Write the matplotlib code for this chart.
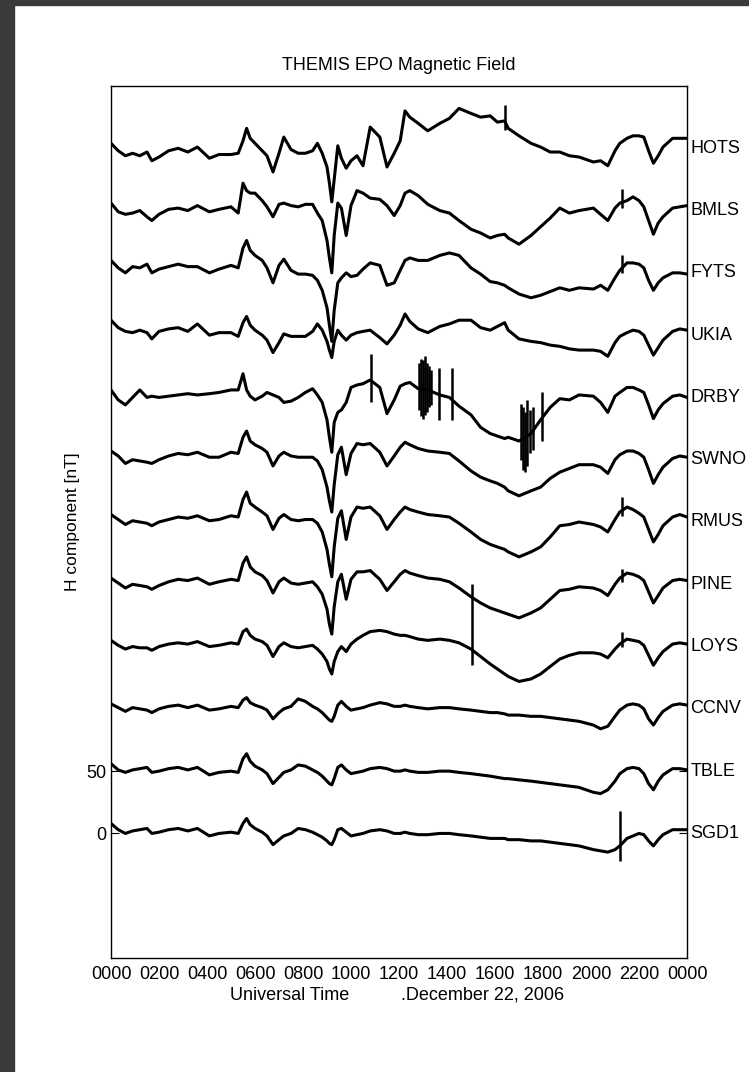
import numpy as np
import matplotlib
matplotlib.use("Agg")
import matplotlib.pyplot as plt
from matplotlib.patches import Rectangle
import matplotlib.transforms as mtransforms

plt.rcParams['font.family'] = ['Liberation Sans', 'DejaVu Sans']

# ---------------- data ----------------
hours = [0, 0.3, 0.6, 0.9, 1.2, 1.5, 1.7, 2.0, 2.4, 2.8,
         3.2, 3.6, 4.1, 4.5, 5.0, 5.3, 5.5, 5.65, 5.8, 6.0,
         6.3, 6.5, 6.75, 7.0, 7.2, 7.5, 7.8, 8.1, 8.4, 8.6,
         8.8, 9.0, 9.1, 9.2, 9.3, 9.45, 9.6, 9.8, 10.0, 10.25,
         10.5, 10.8, 11.2, 11.5, 11.8, 12.05, 12.25, 12.45, 12.8, 13.2,
         13.7, 14.1, 14.5, 15.0, 15.4, 15.8, 16.1, 16.4, 16.55, 17.0,
         17.5, 17.9, 18.3, 18.7, 19.1, 19.5, 20.1, 20.4, 20.7, 21.0,
         21.2, 21.5, 21.75, 22.0, 22.2, 22.4, 22.6, 22.8, 23.0, 23.4,
         23.7, 24.0]

stations = ["SGD1", "TBLE", "CCNV", "LOYS", "PINE", "RMUS",
            "SWNO", "DRBY", "UKIA", "FYTS", "BMLS", "HOTS"]
offsets = [0, 50, 100, 150, 200, 250, 300, 350, 400, 450, 500, 550]

hots = [4, -2, -6, -4, -6, -3, -10, -7, -2, 0,
        -3, 1, -8, -5, -5, -4, 6, 16, 8, 4,
        -2, -6, -19, -4, 9, -1, -4, -4, -2, 4,
        -4, -15, -28, -43, -25, 2, -8, -16, -10, -6,
        -14, 17, 9, -15, -4, 6, 30, 25, 20, 14,
        20, 24, 32, 28, 25, 26, 21, 22, 16, 10,
        4, 1, -3, -3, -6, -7, -11, -10, -14, -2,
        4, 8, 10, 10, 9, -2, -12, -6, 1, 8,
        8, 8]
bmls = [6, -1, -3, -2, 0, -5, -8, -3, 1, 2,
        0, 4, -1, 1, 3, -2, 22, 16, 14, 14,
        8, 3, -5, 5, 6, 4, 3, 5, 5, -2,
        -8, -24, -38, -50, -20, 6, 2, -20, 4, 16,
        14, 10, 9, 4, -4, 4, 14, 16, 12, 5,
        0, -2, -8, -15, -18, -22, -20, -19, -22, -27,
        -20, -13, -6, 2, -2, 0, 2, -3, -8, 2,
        6, 8, 11, 8, 3, -8, -19, -10, -5, 2,
        3, 4]
fyts = [10, 4, 0, 5, 4, 7, 0, 3, 5, 7,
        5, 5, 0, 3, 6, 4, 20, 26, 18, 14,
        10, 4, -8, 6, 11, 2, -1, -1, -2, -6,
        -14, -28, -42, -55, -30, -8, -4, 0, -3, -2,
        3, 8, 6, -10, -8, 2, 10, 12, 10, 10,
        14, 16, 14, 4, -1, -7, -8, -10, -12, -17,
        -20, -18, -15, -12, -14, -12, -13, -10, -14, -4,
        2, 8, 8, 7, 4, -6, -14, -8, -4, 0,
        0, -1]
ukia = [12, 6, 3, 2, 4, 2, -3, 3, 5, 6,
        3, 9, 0, 2, 2, -1, 10, 15, 8, 4,
        0, -4, -14, -6, 1, -1, -1, -1, 3, 9,
        4, -5, -12, -18, -5, 4, 0, -4, 0, 2,
        3, 4, -2, -7, 0, 8, 17, 11, 5, 2,
        7, 9, 12, 12, 6, 4, 7, 10, 4, -3,
        -5, -6, -8, -9, -11, -12, -12, -13, -17, -6,
        -1, 2, 4, 3, 0, -8, -16, -10, -4, 3,
        5, 4]
drby = [6, -2, -6, 0, 6, 0, 1, 0, 1, 2,
        3, 2, 3, 4, 6, 6, 19, 6, 1, -2,
        1, 4, 2, 0, -4, -3, 0, 4, 7, 2,
        -4, -18, -32, -44, -20, -12, -10, -4, 8, 10,
        11, 14, 8, -13, -2, 9, 11, 12, 7, 6,
        2, 0, -7, -14, -24, -29, -31, -33, -32, -35,
        -29, -18, -8, -1, -2, 2, 1, -4, -12, 1,
        4, 8, 8, 6, 4, -6, -17, -10, -5, 1,
        2, 0]
swno = [7, 3, -3, 0, -1, -2, -3, 0, 3, 5,
        4, 6, 2, 2, 6, 5, 18, 23, 15, 12,
        9, 6, -5, 3, 6, 3, 2, 2, 2, -1,
        -8, -22, -33, -42, -20, 4, 10, -12, 5, 13,
        12, 13, 6, -5, 3, 10, 14, 12, 9, 7,
        6, 5, -1, -9, -14, -17, -19, -22, -25, -29,
        -25, -22, -15, -10, -7, -4, -4, -6, -11, 0,
        4, 7, 7, 5, 2, -8, -19, -12, -6, 1,
        3, 2]
rmus = [6, 2, -2, 1, 0, -1, -3, 0, 2, 4,
        3, 5, 1, 2, 5, 4, 18, 24, 15, 12,
        8, 5, -6, 3, 6, 2, 1, 2, 2, -1,
        -8, -22, -34, -44, -20, 3, 9, -14, 4, 12,
        11, 12, 5, -6, 2, 8, 12, 10, 8, 6,
        5, 4, -1, -8, -14, -18, -20, -22, -24, -28,
        -24, -20, -12, -3, -2, 0, -2, -4, -8, 2,
        8, 12, 10, 7, 4, -6, -16, -10, -3, 4,
        6, 4]
pine = [5, 1, -3, 0, -1, -2, -4, -1, 2, 4,
        3, 5, 0, 2, 4, 3, 17, 22, 14, 10,
        7, 3, -7, 2, 5, 1, 0, 1, 2, -2,
        -8, -20, -32, -40, -18, 2, 8, -12, 4, 10,
        10, 11, 4, -5, 2, 8, 11, 9, 7, 5,
        4, 2, -3, -10, -15, -19, -21, -23, -24, -27,
        -23, -19, -12, -5, -4, -2, -3, -5, -9, 0,
        5, 9, 8, 6, 3, -6, -15, -9, -3, 3,
        4, 3]
loys = [5, 1, -2, 0, -1, -1, -3, 0, 2, 3,
        2, 4, 0, 1, 3, 2, 12, 14, 9, 6,
        4, 1, -8, 0, 3, 0, -1, 0, 1, -2,
        -6, -12, -18, -22, -12, -4, 0, -4, 2, 6,
        9, 12, 13, 12, 10, 9, 9, 8, 6, 5,
        6, 5, 3, -2, -8, -14, -18, -22, -24, -28,
        -26, -22, -16, -10, -7, -5, -5, -6, -9, -2,
        2, 6, 5, 4, 1, -7, -15, -9, -4, 2,
        3, 2]
ccnv = [4, 1, -2, 1, 0, -1, -3, 0, 2, 3,
        1, 3, -1, 0, 2, 1, 7, 9, 5, 3,
        1, -1, -8, -3, 0, 2, 8, 6, 2, 0,
        -3, -7, -9, -10, -6, 3, 6, 2, -1, 0,
        1, 3, 5, 4, 2, 2, 3, 2, 1, 0,
        1, 1, 0, -1, -2, -3, -3, -4, -5, -5,
        -6, -6, -7, -8, -9, -10, -13, -16, -14, -6,
        -1, 3, 4, 3, 0, -8, -13, -7, -2, 3,
        4, 3]
tble = [6, 1, -1, 1, 2, 3, -1, 0, 2, 3,
        1, 3, -3, -1, 0, -1, 10, 14, 8, 4,
        1, -2, -10, -5, -1, 1, 5, 4, 1, -1,
        -4, -8, -10, -11, -6, 3, 5, 1, -2, -1,
        0, 2, 3, 2, 0, 0, 1, 0, -1, -1,
        0, 0, -1, -2, -3, -4, -5, -6, -6, -7,
        -8, -9, -10, -11, -12, -13, -17, -18, -15, -8,
        -2, 2, 3, 2, -2, -10, -15, -8, -3, 2,
        2, 1]
sgd1 = [8, 3, 0, 2, 3, 4, 0, 1, 3, 4,
        2, 4, -2, 0, 1, 0, 8, 12, 7, 4,
        1, -2, -9, -5, -2, 0, 4, 3, 1, -1,
        -3, -6, -8, -9, -5, 3, 4, 1, -2, -1,
        0, 2, 3, 2, 0, 0, 1, 0, -1, -1,
        0, 0, -1, -2, -3, -4, -4, -4, -5, -5,
        -6, -6, -7, -8, -9, -10, -13, -14, -15, -13,
        -10, -4, -2, 0, -1, -6, -10, -5, -1, 3,
        3, 3]

series = {"SGD1": sgd1, "TBLE": tble, "CCNV": ccnv, "LOYS": loys,
          "PINE": pine, "RMUS": rmus, "SWNO": swno, "DRBY": drby,
          "UKIA": ukia, "FYTS": fyts, "BMLS": bmls, "HOTS": hots}

# spikes (station, hour, low deviation, high deviation)
spike_station = ["HOTS", "DRBY", "DRBY", "DRBY", "DRBY", "DRBY", "DRBY", "DRBY",
                 "DRBY", "DRBY", "DRBY", "DRBY", "DRBY", "DRBY", "DRBY", "DRBY",
                 "DRBY", "DRBY", "LOYS", "SGD1", "RMUS", "BMLS", "FYTS", "PINE",
                 "LOYS"]
spike_hour = [16.4, 10.85, 12.85, 12.92, 13.0, 13.08, 13.15, 13.25, 13.35,
              13.65, 14.2, 17.1, 17.18, 17.26, 17.34, 17.45, 17.6, 17.95,
              15.05, 21.2, 21.3, 21.3, 21.3, 21.3, 21.3]
spike_lo = [15, -4, -10, -15, -17, -14, -12, -8, -6,
            -18, -18, -50, -58, -60, -55, -45, -42, -35,
            -15, -22, 5, 2, 0, 2, 0]
spike_hi = [35, 35, 28, 31, 30, 33, 28, 25, 22,
            24, 24, -5, -8, -12, -2, -10, -8, 4,
            50, 18, 20, 17, 14, 12, 12]

xtick_hours = list(range(0, 25, 2))
xtick_labels = ["0000", "0200", "0400", "0600", "0800", "1000", "1200",
                "1400", "1600", "1800", "2000", "2200", "0000"]
visible_tick_hours = [4, 6, 8, 12, 14, 18, 20, 24]

# ---------------- figure ----------------
W, H = 749, 1072
fig = plt.figure(figsize=(W / 100, H / 100), dpi=100)
fig.patch.set_facecolor("white")
ax = fig.add_axes([111 / W, 1 - 958 / H, (687 - 111) / W, (958 - 86) / H])

for name, off in zip(stations, offsets):
    vals = np.array(series[name], dtype=float) + off
    ax.plot(hours, vals, color="black", lw=2.2, solid_joinstyle="round")

off_map = dict(zip(stations, offsets))
lo = [l + off_map[s] for s, l in zip(spike_station, spike_lo)]
hi = [h + off_map[s] for s, h in zip(spike_station, spike_hi)]
ax.vlines(spike_hour, lo, hi, color="black", lw=1.8)

ax.set_xlim(0, 24)
ax.set_ylim(-100, 600)

ax.set_xticks(xtick_hours)
ax.set_xticklabels(xtick_labels)
ax.set_xticks(visible_tick_hours, minor=True)
ax.tick_params(axis="x", which="major", length=0, labelsize=13, pad=6)
ax.tick_params(axis="x", which="minor", direction="in", length=6,
               top=True, bottom=True, width=0.8)
ax.set_yticks([0, 50])
ax.tick_params(axis="y", which="major", direction="in", length=6,
               left=True, right=True, labelsize=13, pad=3, width=0.8)
for sp in ax.spines.values():
    sp.set_linewidth(1.0)

trans = mtransforms.blended_transform_factory(ax.transAxes, ax.transData)
for name, off in zip(stations, offsets):
    ax.text(1.006, off, name, transform=trans, ha="left", va="center",
            fontsize=13)

fig.text(399 / W, 1 - 65 / H, "THEMIS EPO Magnetic Field", ha="center",
         va="center", fontsize=13)
fig.text(72 / W, 1 - 522 / H, "H component [nT]", rotation=90,
         ha="center", va="center", fontsize=12.5)
fig.text(290 / W, 1 - 995 / H, "Universal Time", ha="center", va="center",
         fontsize=13)
fig.text(483 / W, 1 - 995 / H, ".December 22, 2006", ha="center",
         va="center", fontsize=13)

# dark screenshot border
fig.add_artist(Rectangle((0, 0), 14 / W, 1, transform=fig.transFigure,
                         color="#3a3a3a", zorder=10))
fig.add_artist(Rectangle((0, 1 - 5 / H), 1, 5 / H, transform=fig.transFigure,
                         color="#3a3a3a", zorder=10))

fig.savefig("out.png", dpi=100, facecolor="white")
